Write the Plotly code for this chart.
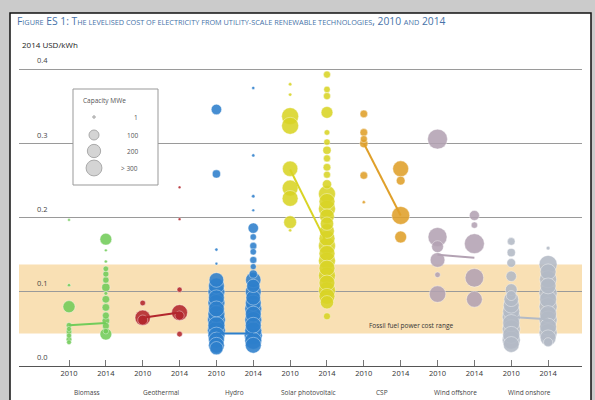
import math
import plotly.graph_objects as go

# ---------------- data ----------------
categories = ["Biomass", "Geothermal", "Hydro", "Solar photovoltaic", "CSP", "Wind offshore", "Wind onshore"]
years = ["2010", "2014"]
y_ticks = [0.0, 0.1, 0.2, 0.3, 0.4]
legend_mw = [1, 100, 200, 300]
legend_labels = ["1", "100", "200", "> 300"]
fossil_range = [0.044, 0.137]

biomass_2010_lcoe = [0.197, 0.109, 0.080, 0.055, 0.050, 0.046, 0.041, 0.036, 0.032]
biomass_2010_mw = [1, 3, 160, 20, 15, 20, 15, 20, 12]
biomass_2014_lcoe = [0.171, 0.156, 0.141, 0.131, 0.124, 0.116, 0.106, 0.098, 0.090, 0.079, 0.068, 0.061, 0.054, 0.047, 0.043]
biomass_2014_mw = [150, 1, 2, 20, 25, 30, 60, 5, 50, 50, 40, 50, 40, 20, 150]

geothermal_2010_lcoe = [0.085, 0.065, 0.062]
geothermal_2010_mw = [20, 280, 100]
geothermal_2014_lcoe = [0.241, 0.198, 0.103, 0.072, 0.068, 0.043]
geothermal_2014_mw = [1, 1, 15, 300, 80, 20]

hydro_2010_lcoe = [0.346, 0.259, 0.157, 0.138, 0.116, 0.108, 0.100, 0.092, 0.085, 0.077, 0.070, 0.062, 0.055, 0.048, 0.041, 0.035, 0.028, 0.024]
hydro_2010_mw = [110, 60, 2, 1, 250, 300, 350, 300, 350, 300, 350, 400, 350, 400, 350, 300, 300, 200]
hydro_2014_lcoe = [0.375, 0.284, 0.229, 0.210, 0.186, 0.174, 0.162, 0.154, 0.143, 0.134, 0.124, 0.116, 0.108, 0.100, 0.092, 0.085, 0.077, 0.070, 0.062, 0.055, 0.048, 0.041, 0.034, 0.028]
hydro_2014_mw = [2, 2, 3, 1, 110, 30, 40, 30, 40, 25, 60, 280, 200, 300, 250, 300, 350, 300, 350, 300, 350, 400, 350, 300]

solar_2010_lcoe = [0.380, 0.366, 0.337, 0.324, 0.266, 0.240, 0.226, 0.194, 0.183]
solar_2010_mw = [3, 3, 350, 350, 280, 300, 300, 180, 2]
solar_2014_lcoe = [0.393, 0.373, 0.364, 0.342, 0.315, 0.302, 0.291, 0.280, 0.268, 0.258, 0.245, 0.232, 0.222, 0.212, 0.202, 0.192, 0.182, 0.172, 0.162, 0.152, 0.142, 0.132, 0.122, 0.112, 0.102, 0.094, 0.086, 0.067]
solar_2014_mw = [40, 30, 40, 150, 20, 30, 60, 40, 50, 40, 80, 350, 300, 350, 250, 200, 250, 300, 350, 300, 350, 300, 350, 300, 350, 300, 200, 40]

csp_2010_lcoe = [0.340, 0.315, 0.306, 0.300, 0.257, 0.221]
csp_2010_mw = [50, 50, 40, 60, 50, 2]
csp_2014_lcoe = [0.266, 0.250, 0.203, 0.174]
csp_2014_mw = [300, 70, 400, 150]

offshore_2010_lcoe = [0.306, 0.174, 0.161, 0.143, 0.123, 0.097]
offshore_2010_mw = [500, 450, 150, 250, 20, 330]
offshore_2014_lcoe = [0.203, 0.190, 0.165, 0.119, 0.090]
offshore_2014_mw = [100, 30, 500, 430, 300]

onshore_2010_lcoe = [0.168, 0.153, 0.139, 0.121, 0.103, 0.095, 0.090, 0.082, 0.074, 0.066, 0.058, 0.050, 0.042, 0.035, 0.029]
onshore_2010_mw = [50, 60, 70, 110, 150, 100, 250, 300, 350, 400, 350, 400, 350, 400, 300]
onshore_2014_lcoe = [0.159, 0.137, 0.127, 0.117, 0.108, 0.098, 0.090, 0.080, 0.070, 0.062, 0.053, 0.045, 0.038, 0.032]
onshore_2014_mw = [5, 400, 300, 350, 300, 400, 350, 400, 350, 400, 350, 400, 300, 80]

avg_2010 = [0.055, 0.065, 0.044, 0.265, 0.300, 0.150, 0.066]
avg_2014 = [0.058, 0.072, 0.044, 0.165, 0.203, 0.146, 0.063]

series = [
    (biomass_2010_lcoe, biomass_2010_mw, biomass_2014_lcoe, biomass_2014_mw),
    (geothermal_2010_lcoe, geothermal_2010_mw, geothermal_2014_lcoe, geothermal_2014_mw),
    (hydro_2010_lcoe, hydro_2010_mw, hydro_2014_lcoe, hydro_2014_mw),
    (solar_2010_lcoe, solar_2010_mw, solar_2014_lcoe, solar_2014_mw),
    (csp_2010_lcoe, csp_2010_mw, csp_2014_lcoe, csp_2014_mw),
    (offshore_2010_lcoe, offshore_2010_mw, offshore_2014_lcoe, offshore_2014_mw),
    (onshore_2010_lcoe, onshore_2010_mw, onshore_2014_lcoe, onshore_2014_mw),
]

# ---------------- style ----------------
colors = ["#72cc5a", "#b3262d", "#2d7fcc", "#d9d425", "#e0a02a", "#b3a2b3", "#b3bac6"]
FONT = "Open Sans"
W, H = 595, 400
ML, MR, MT, MB = 19, 13, 62, 34
PW, PH = W - ML - MR, H - MT - MB


def px2x(px):
    return (px - ML) / PW


def py2y(py):
    return (H - MB - py) / PH


def mw_to_px(mw):
    return 2 + 0.8 * math.sqrt(mw)


fig = go.Figure()

for i, (v10, m10, v14, m14) in enumerate(series):
    for j, (vals, mws) in enumerate([(v10, m10), (v14, m14)]):
        pairs = sorted(zip(vals, mws), key=lambda p: -p[1])
        fig.add_trace(go.Scatter(
            x=[2 * i + j] * len(pairs),
            y=[p[0] for p in pairs],
            mode="markers",
            marker=dict(size=[mw_to_px(p[1]) for p in pairs], color=colors[i], opacity=0.88,
                        line=dict(color="rgba(255,255,255,0.55)", width=0.8)),
            hoverinfo="skip", showlegend=False,
        ))

for i in range(len(categories)):
    fig.add_trace(go.Scatter(
        x=[2 * i, 2 * i + 1], y=[avg_2010[i], avg_2014[i]], mode="lines",
        line=dict(color=colors[i], width=2), hoverinfo="skip", showlegend=False,
    ))

shapes = [
    # outer frame
    dict(type="rect", xref="paper", yref="paper", x0=px2x(10), x1=px2x(591), y0=py2y(403), y1=py2y(13),
         fillcolor="white", line=dict(color="#111", width=1.5), layer="below"),
    # fossil fuel band
    dict(type="rect", xref="paper", yref="y", x0=0, x1=1, y0=fossil_range[0], y1=fossil_range[1],
         fillcolor="#f9e0b4", line=dict(width=0), layer="below"),
    # capacity legend box
    dict(type="rect", xref="paper", yref="paper", x0=px2x(73), x1=px2x(158), y0=py2y(185), y1=py2y(89),
         fillcolor="white", line=dict(color="#999", width=1), layer="above"),
]

annotations = []
leg_y = [117, 135, 151, 168]
for k, mw in enumerate(legend_mw):
    d = mw_to_px(mw) if mw > 1 else 2.5
    shapes.append(dict(type="circle", xref="paper", yref="paper", xsizemode="pixel", ysizemode="pixel",
                       xanchor=px2x(94), yanchor=py2y(leg_y[k]), x0=-d / 2, x1=d / 2, y0=-d / 2, y1=d / 2,
                       fillcolor="#d4d4d4", line=dict(color="#aaa", width=1), layer="above"))
    annotations.append(dict(xref="paper", yref="paper", x=px2x(140), y=py2y(leg_y[k]), text=legend_labels[k],
                            showarrow=False, xanchor="right", yanchor="middle",
                            font=dict(family=FONT, size=6.5, color="#555")))
annotations.append(dict(xref="paper", yref="paper", x=px2x(81), y=py2y(100), text="Capacity MWe",
                        showarrow=False, xanchor="left", yanchor="middle",
                        font=dict(family=FONT, size=6.5, color="#555")))

# y tick labels (above the gridlines)
for v in y_ticks:
    annotations.append(dict(xref="paper", yref="y", x=px2x(42), y=v, yshift=9, text=f"{v:.1f}",
                            showarrow=False, xanchor="center", yanchor="middle",
                            font=dict(family=FONT, size=7.5, color="#444")))

# category names
for i, c in enumerate(categories):
    annotations.append(dict(xref="x", yref="paper", x=2 * i + 0.5, y=py2y(392), text=c, showarrow=False,
                            xanchor="center", yanchor="middle", font=dict(family=FONT, size=6.5, color="#444")))

sc = "font-size:7.3px"
title_html = (f"F<span style='{sc}'>IGURE</span> ES 1: T<span style='{sc}'>HE LEVELISED COST OF ELECTRICITY "
              f"FROM UTILITY-SCALE RENEWABLE TECHNOLOGIES</span>, 2010 <span style='{sc}'>AND</span> 2014")
annotations.append(dict(xref="paper", yref="paper", x=px2x(15), y=py2y(21), text=title_html, showarrow=False,
                        xanchor="left", yanchor="middle", font=dict(family=FONT, size=10.3, color="#4672a8")))
annotations.append(dict(xref="paper", yref="paper", x=px2x(20), y=py2y(44), text="2014 USD/kWh", showarrow=False,
                        xanchor="left", yanchor="middle", font=dict(family=FONT, size=8, color="#222")))
annotations.append(dict(xref="paper", yref="paper", x=px2x(411), y=py2y(325), text="Fossil fuel power cost range",
                        showarrow=False, xanchor="center", yanchor="middle",
                        font=dict(family=FONT, size=6.5, color="#333")))

fig.update_layout(
    width=W, height=H,
    margin=dict(l=ML, r=MR, t=MT, b=MB, pad=0),
    paper_bgcolor="#cbcbcb", plot_bgcolor="rgba(0,0,0,0)",
    shapes=shapes, annotations=annotations, showlegend=False,
    xaxis=dict(range=[-1.357, 13.92], tickvals=list(range(14)), ticktext=years * 7,
               ticks="inside", ticklen=6, tickcolor="#777", showline=True, linecolor="#555", linewidth=1.2,
               showgrid=False, zeroline=False, tickfont=dict(family=FONT, size=7.5, color="#333"), fixedrange=True),
    yaxis=dict(range=[0, 0.41], tickvals=[0.1, 0.2, 0.3, 0.4], showticklabels=False, showgrid=True,
               gridcolor="#9a9a9a", gridwidth=1, zeroline=False, showline=False, ticks="", fixedrange=True),
)

fig.write_html("out.html", config={"displayModeBar": False, "staticPlot": True},
               post_script="document.body.style.margin='0';document.body.style.padding='0';"
                           "document.body.style.overflow='hidden';")
